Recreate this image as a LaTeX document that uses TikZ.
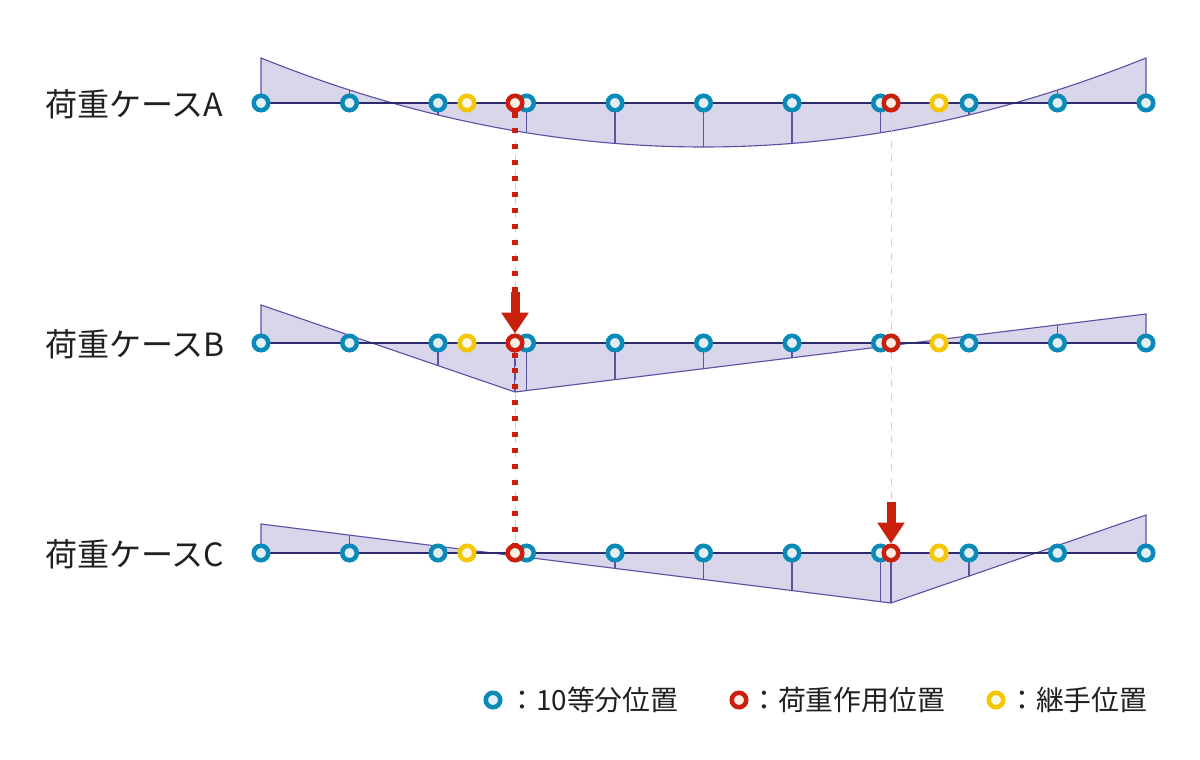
\documentclass[tikz,border=0pt]{standalone}
\usepackage{fontspec}
\setmainfont{Noto Sans CJK JP}
\usetikzlibrary{arrows.meta}

\definecolor{divblue}{HTML}{0A8AB6}
\definecolor{divbluein}{HTML}{E1EFF6}
\definecolor{loadred}{HTML}{C91F0C}
\definecolor{loadredin}{HTML}{FCEDE3}
\definecolor{jointyel}{HTML}{F4C700}
\definecolor{jointyelin}{HTML}{FFF8E4}
\definecolor{momfill}{HTML}{D9D6EB}
\definecolor{momline}{HTML}{5B52A3}
\definecolor{beamcol}{HTML}{2E2A6E}
\definecolor{guidepink}{HTML}{F6C2BC}
\definecolor{txtgray}{HTML}{231F20}

\pgfdeclarelayer{bg}
\pgfdeclarelayer{mid}
\pgfsetlayers{bg,mid,main}

\tikzset{
  ptbase/.style={circle, inner sep=0pt, minimum size=0.3625cm, line width=0.1125cm},
  divpt/.style={ptbase, draw=divblue, fill=divbluein},
  loadpt/.style={ptbase, draw=loadred, fill=loadredin},
  jointpt/.style={ptbase, draw=jointyel, fill=jointyelin},
  momarea/.style={fill=momfill},
  momedge/.style={draw=momline, line width=0.8pt},
  loadline/.style={draw=momline, line width=2pt},
  beam/.style={draw=beamcol, line width=1.1pt},
  guide/.style={draw=guidepink, line width=0.7pt, dash pattern=on 5pt off 5pt},
  loaddot/.style={draw=loadred, line width=3.6pt, dash pattern=on 3.6pt off 7.7pt},
  loadarrow/.style={draw=loadred, line width=0.225cm, -{Triangle[width=0.65cm,length=0.52cm]}},
  casetxt/.style={anchor=west, inner sep=0pt, text=txtgray, font=\fontsize{22.8}{27}\selectfont},
  legtxt/.style={anchor=west, inner sep=0pt, text=txtgray, font=\fontsize{19.8}{24}\selectfont}
}

\begin{document}
\begin{tikzpicture}[x=0.025cm, y=-0.025cm]
  \useasboundingbox (0,0) rectangle (1200,760);

  \begin{pgfonlayer}{bg}
    % case A: parabola
    \fill[momarea] (261,103) -- plot[domain=261:1146, samples=80] (\x,{147-356*((\x-261)/885-0.5)^2}) -- (1146,103) -- cycle;
    \draw[momedge] (261,103) -- plot[domain=261:1146, samples=80] (\x,{147-356*((\x-261)/885-0.5)^2}) -- (1146,103);
    \foreach \i in {1,...,9}
      \draw[momedge] (261+88.5*\i,103) -- (261+88.5*\i,{147-356*(0.1*\i-0.5)^2});

    % case B: load at 515
    \fill[momarea] (261,343) -- (261,305) -- (515,392) -- (1146,314) -- (1146,343) -- cycle;
    \draw[momedge] (261,343) -- (261,305) -- (515,392) -- (1146,314) -- (1146,343);
    \foreach \i in {1,...,9} {
      \pgfmathsetmacro\xx{261+88.5*\i}
      \pgfmathsetmacro\yy{\xx<515 ? 305+87/254*(\xx-261) : 392-78/631*(\xx-515)}
      \draw[momedge] (\xx,343) -- (\xx,\yy);
    }
    \draw[loadline] (515,343) -- (515,392);

    % case C: load at 891
    \fill[momarea] (261,553) -- (261,524) -- (891,603) -- (1146,515) -- (1146,553) -- cycle;
    \draw[momedge] (261,553) -- (261,524) -- (891,603) -- (1146,515) -- (1146,553);
    \foreach \i in {1,...,9} {
      \pgfmathsetmacro\xx{261+88.5*\i}
      \pgfmathsetmacro\yy{\xx<891 ? 524+79/630*(\xx-261) : 603-88/255*(\xx-891)}
      \draw[momedge] (\xx,553) -- (\xx,\yy);
    }
    \draw[loadline] (891,553) -- (891,603);

    \foreach \y in {103,343,553}
      \draw[beam] (261,\y) -- (1146,\y);
  \end{pgfonlayer}

  % points on the beams
  \foreach \r/\y in {a/103,b/343,c/553} {
    \foreach \i in {0,...,10}
      \node[divpt] (\r\i) at (261+88.5*\i,\y) {};
    \node[jointpt] (\r J1) at (467,\y) {};
    \node[jointpt] (\r J2) at (939,\y) {};
    \node[loadpt] (\r L1) at (515,\y) {};
    \node[loadpt] (\r L2) at (891,\y) {};
  }

  \coordinate (bTop) at (515,292);
  \coordinate (cTop) at (891,502);

  \begin{pgfonlayer}{mid}
    \draw[guide] (aL1.south) -- (cL1.north);
    \draw[guide] (aL2.south) -- (cTop);
    \draw[loaddot] (aL1.south) -- (bTop);
    \draw[loaddot] (bL1.south) -- (cL1.north);
  \end{pgfonlayer}

  \draw[loadarrow] (bTop) -- (bL1.north);
  \draw[loadarrow] (cTop) -- (cL2.north);

  \node[casetxt] (caseA) at (45,104) {荷重ケースA};
  \node[casetxt] (caseB) at (45,344) {荷重ケースB};
  \node[casetxt] (caseC) at (45,554) {荷重ケースC};

  % legend
  \node[divpt] (legDiv) at (493,700) {};
  \node[legtxt] (legDivT) at (508,700) {：10等分位置};
  \node[loadpt] (legLoad) at (739,700) {};
  \node[legtxt] (legLoadT) at (750,700) {：荷重作用位置};
  \node[jointpt] (legJoint) at (996,700) {};
  \node[legtxt] (legJointT) at (1008,700) {：継手位置};
\end{tikzpicture}
\end{document}
